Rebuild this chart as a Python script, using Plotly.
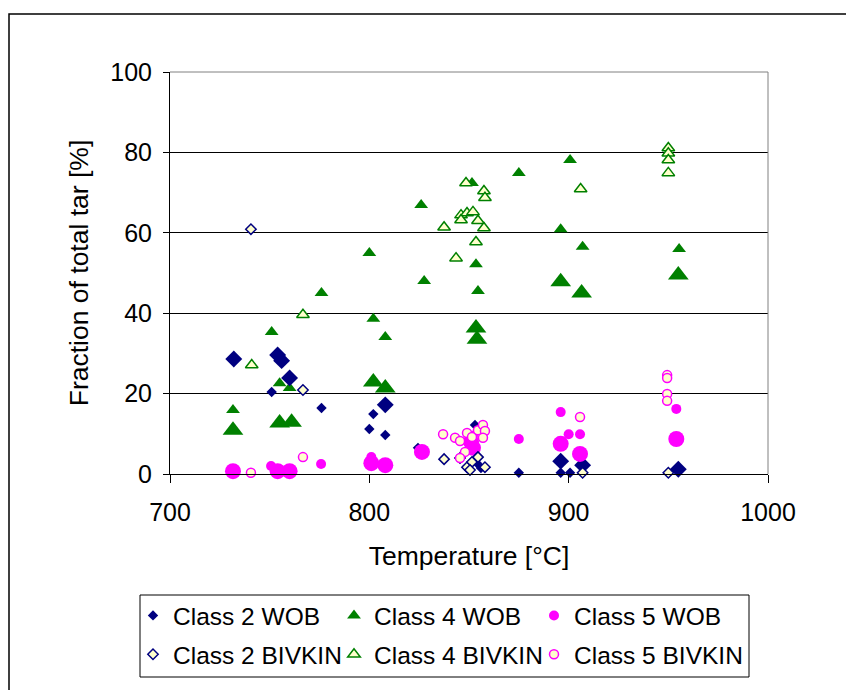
import plotly.graph_objects as go

# ---- data (Temperature [°C], fraction of total tar [%]) ----
c2_wob_small_t = [751, 776, 802, 800, 808, 824.4, 853, 852, 854, 856, 875, 896, 900.7]
c2_wob_small_y = [20.4, 16.4, 14.9, 11.2, 9.7, 6.5, 12.2, 8.5, 2.7, 1.5, 0.3, 0.3, 0.3]
c2_wob_large_t = [732, 754, 756, 760, 808, 896, 907, 955]
c2_wob_large_y = [28.6, 29.6, 28.2, 23.9, 17.2, 3.2, 2.2, 1.2]

c4_wob_small_t = [751, 755, 760, 731.6, 776, 875, 851.5, 826, 800, 853.5, 827.5, 854.5, 802, 808, 900.7, 896, 907, 955.4]
c4_wob_small_y = [35.3, 22.6, 21.4, 15.9, 45.0, 74.9, 72.4, 66.9, 55.0, 52.2, 48.0, 45.5, 38.6, 34.1, 78.1, 60.9, 56.5, 56.0]
c4_wob_large_t = [731.6, 755, 761, 853.5, 854, 802, 808, 896, 906.5, 955]
c4_wob_large_y = [10.9, 12.7, 12.9, 36.3, 33.5, 22.9, 21.4, 47.8, 45.0, 49.5]

c5_wob_small_t = [750.7, 775.8, 801, 875, 896, 900, 905.7, 954, 852]
c5_wob_small_y = [2.0, 2.5, 4.2, 8.7, 15.4, 9.9, 9.9, 16.2, 9.5]
c5_wob_large_t = [731.6, 754, 760, 801, 808, 826.4, 852, 851, 896, 905.7, 954]
c5_wob_large_y = [0.7, 0.7, 0.7, 2.7, 2.2, 5.5, 6.5, 8.0, 7.5, 5.0, 8.7]

c2_biv_t = [740.6, 766.7, 837.5, 849, 851.5, 854.5, 858, 845.5, 850.5, 907, 950]
c2_biv_y = [60.9, 20.9, 3.7, 1.7, 3.0, 4.2, 1.7, 4.0, 1.0, 0.3, 0.3]

c4_biv_t = [741, 766.7, 848.5, 857.5, 858, 846, 849, 852, 846, 854.5, 857.5, 837.5, 853.5, 843.5, 950, 950, 950, 950, 906]
c4_biv_y = [27.1, 39.6, 72.4, 70.4, 68.7, 64.4, 64.9, 65.2, 63.2, 63.0, 61.2, 61.4, 57.7, 53.7, 81.1, 79.8, 78.1, 74.9, 70.9]

c5_biv_t = [740.6, 766.7, 837, 843, 845.5, 849, 851.5, 854.5, 857, 858, 857, 848, 845.5, 905.7, 949.4, 949.4, 949.4, 949.4]
c5_biv_y = [0.3, 4.2, 9.9, 9.0, 8.2, 10.2, 9.2, 10.9, 12.2, 10.7, 9.0, 5.5, 4.0, 14.2, 24.6, 23.9, 19.9, 18.2]

names = ["Class 2 WOB", "Class 4 WOB", "Class 5 WOB",
         "Class 2 BIVKIN", "Class 4 BIVKIN", "Class 5 BIVKIN"]

NAVY = "#000080"
GREEN = "#008000"
MAG = "#FF00FF"
PALE = "#FFFFCC"
FONT = "Liberation Sans, Arial, sans-serif"

fig = go.Figure()

def add(t, y, name, symbol, size, color, line_color, lw, show, leg, rank):
    fig.add_trace(go.Scatter(
        x=t, y=y, mode="markers", name=name, legendgroup=name,
        showlegend=show, legend=leg, legendrank=rank, cliponaxis=False,
        marker=dict(symbol=symbol, size=size, color=color,
                    line=dict(color=line_color, width=lw)),
    ))

# filled WOB series (small + large markers)
add(c2_wob_small_t, c2_wob_small_y, names[0], "diamond", 8, NAVY, NAVY, 0, True, "legend", 1)
add(c4_wob_small_t, c4_wob_small_y, names[1], "triangle-up", 12, GREEN, GREEN, 0, True, "legend2", 1)
add(c5_wob_small_t, c5_wob_small_y, names[2], "circle", 10, MAG, MAG, 0, True, "legend3", 1)
add(c2_wob_large_t, c2_wob_large_y, names[0], "diamond", 13, NAVY, NAVY, 0, False, "legend", 1)
add(c4_wob_large_t, c4_wob_large_y, names[1], "triangle-up", 18, GREEN, GREEN, 0, False, "legend2", 1)
add(c5_wob_large_t, c5_wob_large_y, names[2], "circle", 16, MAG, MAG, 0, False, "legend3", 1)
# open BIVKIN series
add(c2_biv_t, c2_biv_y, names[3], "diamond", 8, PALE, NAVY, 1.5, True, "legend", 2)
add(c4_biv_t, c4_biv_y, names[4], "triangle-up", 11, PALE, GREEN, 1.5, True, "legend2", 2)
add(c5_biv_t, c5_biv_y, names[5], "circle", 9, PALE, MAG, 1.5, True, "legend3", 2)

W, H = 846, 690
L, R, T, B = 170, 78, 72, 216
pw, ph = W - L - R, H - T - B

def px(xp):
    return (xp - L) / pw

def py(yp):
    return (H - B - yp) / ph

def leg(xpix):
    return dict(
        orientation="v", x=px(xpix), y=py(593), xanchor="left", yanchor="top",
        bgcolor="rgba(0,0,0,0)", borderwidth=0, font=dict(size=24.5),
        traceorder="grouped", tracegroupgap=4, itemsizing="trace",
    )

fig.update_layout(
    width=W, height=H,
    margin=dict(l=L, r=R, t=T, b=B, autoexpand=False),
    paper_bgcolor="white", plot_bgcolor="white",
    font=dict(family=FONT, size=25, color="black"),
    xaxis=dict(
        range=[700, 1000], dtick=100, tick0=700, showgrid=False, zeroline=False,
        showline=True, linecolor="black", linewidth=1,
        ticks="outside", ticklen=8, tickcolor="black", ticklabelstandoff=8,
        tickfont=dict(size=25),
        title=dict(text="Temperature [°C]", font=dict(size=26.5), standoff=21),
    ),
    yaxis=dict(
        range=[0, 100], dtick=20, tick0=0, showgrid=True, gridcolor="black", gridwidth=1,
        zeroline=False, showline=True, linecolor="black", linewidth=1,
        ticks="outside", ticklen=6, tickcolor="black", ticklabelstandoff=6,
        tickfont=dict(size=25),
        title=dict(text="Fraction of total tar [%]", font=dict(size=26.5), standoff=14),
    ),
    legend=leg(133),
    legend2=leg(334),
    legend3=leg(534),
    shapes=[
        dict(type="line", xref="paper", yref="paper", x0=0, x1=1, y0=1, y1=1,
             line=dict(color="#808080", width=1)),
        dict(type="line", xref="paper", yref="paper", x0=1, x1=1, y0=0, y1=1,
             line=dict(color="#808080", width=1)),
        dict(type="rect", xref="paper", yref="paper",
             x0=px(9), x1=px(852), y0=py(14), y1=py(700),
             line=dict(color="black", width=1.5), fillcolor="rgba(0,0,0,0)"),
        dict(type="rect", xref="paper", yref="paper",
             x0=px(140), x1=px(749), y0=py(595), y1=py(677),
             line=dict(color="black", width=1), fillcolor="rgba(0,0,0,0)"),
    ],
)

fig.write_html("out.html")
